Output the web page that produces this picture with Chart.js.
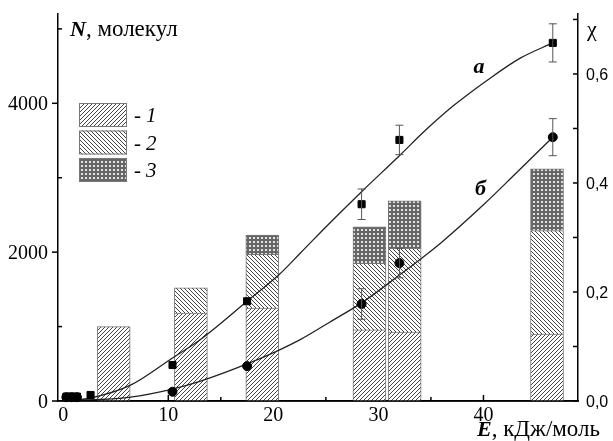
<!DOCTYPE html>
<html>
<head>
<meta charset="utf-8">
<script src="https://cdn.jsdelivr.net/npm/chart.js@4.4.0/dist/chart.umd.min.js"></script>
<style>
  html, body { margin: 0; padding: 0; background: #fff; }
  #wrap { width: 613px; height: 441px; }
</style>
</head>
<body>
<div id="wrap"><canvas id="c" width="613" height="441"></canvas></div>
<script>
// --- data ---
// bars: energy positions and stacked segments (N, molecules)
const barE = [4.8, 12.15, 18.95, 29.15, 32.5, 46.05];
const part1 = [1000, 1180, 1250, 955, 925, 900];
const part2 = [null, 340, 720, 895, 1125, 1390];
const part3 = [null, null, 260, 490, 640, 830];
const legendLabels = ['1', '2', '3'];

// measured points (chi, right axis)
const aE   = [0.3, 0.8, 1.3, 2.6, 10.4, 17.5, 28.4, 32.0, 46.6];
const aChi = [0.008, 0.008, 0.008, 0.011, 0.066, 0.183, 0.361, 0.479, 0.657];
const aErr = [0, 0, 0, 0, 0, 0, 0.028, 0.027, 0.035];
const bE   = [0.3, 0.8, 1.3, 10.4, 17.5, 28.4, 32.0, 46.6];
const bChi = [0.007, 0.007, 0.007, 0.017, 0.064, 0.178, 0.253, 0.484];
const bErr = [0, 0, 0, 0, 0, 0.028, 0.027, 0.034];

// fitted curves
const curveAE   = [0, 2.6, 6.4, 10.4, 13, 17.5, 20.5, 22.6, 25.4, 28.4, 32, 34.5, 37.1, 40.4, 43.5, 46.6];
const curveAChi = [0, 0.0055, 0.029, 0.079, 0.112, 0.183, 0.231, 0.272, 0.327, 0.384, 0.450, 0.497, 0.541, 0.589, 0.629, 0.657];
const curveBE   = [0, 6.4, 10.4, 13, 17.5, 20.5, 22.6, 25.4, 28.4, 32, 36, 40, 43, 46.6];
const curveBChi = [0, 0.0073, 0.022, 0.036, 0.068, 0.093, 0.113, 0.145, 0.180, 0.231, 0.291, 0.360, 0.416, 0.484];
const curveLabels = [['а', 39.05, 0.602], ['б', 39.2, 0.378]];

// tick values
const xMajor = [0, 10, 20, 30, 40];
const xMinor = [5, 15, 25, 35, 45];
const yMajor = [0, 2000, 4000];
const yMinor = [1000, 3000, 5000];
const y2Major = [0, 0.2, 0.4, 0.6];
const y2Minor = [0.1, 0.3, 0.5, 0.7];

const SERIF = '"Liberation Serif", "Times New Roman", serif';
const SANS = '"Liberation Sans", Arial, sans-serif';

// hatch patterns
function hatch(dir) {
  const s = 4, c = document.createElement('canvas');
  c.width = c.height = s;
  const g = c.getContext('2d');
  g.fillStyle = '#fff'; g.fillRect(0, 0, s, s);
  g.strokeStyle = '#444'; g.lineWidth = 1;
  g.beginPath();
  if (dir > 0) {
    g.moveTo(-1, s + 1); g.lineTo(s + 1, -1);
    g.moveTo(-1, 1); g.lineTo(1, -1);
    g.moveTo(s - 1, s + 1); g.lineTo(s + 1, s - 1);
  } else {
    g.moveTo(-1, -1); g.lineTo(s + 1, s + 1);
    g.moveTo(s - 1, -1); g.lineTo(s + 1, 1);
    g.moveTo(-1, s - 1); g.lineTo(1, s + 1);
  }
  g.stroke();
  return g.createPattern(c, 'repeat');
}
function cross() {
  const s = 4, c = document.createElement('canvas');
  c.width = c.height = s;
  const g = c.getContext('2d');
  g.fillStyle = '#666'; g.fillRect(0, 0, s, s);
  g.fillStyle = '#fff';
  g.beginPath(); g.arc(2, 2, 1.1, 0, Math.PI * 2); g.fill();
  return g.createPattern(c, 'repeat');
}
const fills = [hatch(1), hatch(-1), cross()];

const pts = (xs, ys) => xs.map((x, i) => ({x, y: ys[i]}));
const barSet = (vals, i) => ({
  type: 'bar', label: legendLabels[i], stack: 's', order: 3,
  data: barE.map((e, k) => ({x: e, y: vals[k]})),
  backgroundColor: fills[i], borderColor: '#777', borderWidth: 1,
  barThickness: 33, yAxisID: 'y'
});

// ticks drawn inward / outward like the original
const ticksPlugin = {
  id: 'ticks',
  beforeDatasetsDraw(chart) {
    const {ctx, chartArea: a, scales: {x, y, y2}} = chart;
    ctx.save();
    ctx.strokeStyle = '#000'; ctx.lineWidth = 1.5;
    const seg = (x1, y1, x2, y2_) => { ctx.beginPath(); ctx.moveTo(x1, y1); ctx.lineTo(x2, y2_); ctx.stroke(); };
    xMajor.forEach(v => { const p = x.getPixelForValue(v); seg(p, a.bottom, p, a.bottom - 6); });
    xMinor.forEach(v => { const p = x.getPixelForValue(v); seg(p, a.bottom, p, a.bottom - 4); });
    yMajor.forEach(v => { const p = y.getPixelForValue(v); seg(a.left - 6, p, a.left, p); });
    yMinor.forEach(v => { const p = y.getPixelForValue(v); seg(a.left, p, a.left + 4, p); });
    y2Major.concat(y2Minor).forEach(v => { const p = y2.getPixelForValue(v); seg(a.right - 5, p, a.right, p); });
    ctx.restore();
  },
  afterDatasetsDraw(chart) {
    const {ctx, chartArea: a, scales: {y2}} = chart;
    ctx.save();
    ctx.strokeStyle = '#000'; ctx.lineWidth = 1.5;
    ctx.beginPath(); ctx.moveTo(a.left, a.bottom); ctx.lineTo(a.right, a.bottom); ctx.stroke();
    // error bars
    ctx.strokeStyle = '#555'; ctx.lineWidth = 1;
    const err = (xs, ys, es) => xs.forEach((e, i) => {
      if (!es[i]) return;
      const px = chart.scales.x.getPixelForValue(e);
      const t = y2.getPixelForValue(ys[i] + es[i]), b = y2.getPixelForValue(ys[i] - es[i]);
      ctx.beginPath();
      ctx.moveTo(px, t); ctx.lineTo(px, b);
      ctx.moveTo(px - 4, t); ctx.lineTo(px + 4, t);
      ctx.moveTo(px - 4, b); ctx.lineTo(px + 4, b);
      ctx.stroke();
    });
    err(aE, aChi, aErr);
    err(bE, bChi, bErr);
    ctx.restore();
  }
};

// tick labels, titles, curve labels and legend
const textPlugin = {
  id: 'texts',
  afterDraw(chart) {
    const {ctx, chartArea: a, scales: {x, y, y2}} = chart;
    ctx.save();
    ctx.fillStyle = '#000';
    ctx.textBaseline = 'alphabetic';
    // tick labels
    ctx.font = '20px ' + SERIF;
    ctx.textAlign = 'center';
    xMajor.forEach(v => ctx.fillText(String(v), x.getPixelForValue(v), a.bottom + 20));
    ctx.textAlign = 'right';
    yMajor.forEach(v => ctx.fillText(String(v), a.left - 10, y.getPixelForValue(v) + 7));
    ctx.font = '16px ' + SANS;
    ctx.textAlign = 'left';
    y2Major.forEach(v => ctx.fillText(v.toFixed(1).replace('.', ','), a.right + 8, y2.getPixelForValue(v) + 6));
    // N, молекул
    ctx.font = 'italic bold 22px ' + SERIF;
    ctx.fillText('N', a.left + 12, 36);
    let w = ctx.measureText('N').width;
    ctx.font = '23px ' + SERIF;
    ctx.fillText(', молекул', a.left + 12 + w, 36);
    // chi
    ctx.font = '22px ' + SERIF;
    ctx.fillText('χ', a.right + 9, 36);
    // E, кДж/моль
    ctx.font = 'italic bold 22px ' + SERIF;
    ctx.fillText('E', 477, 436);
    w = ctx.measureText('E').width;
    ctx.font = '23px ' + SERIF;
    ctx.fillText(', кДж/моль', 477 + w, 436);
    // curve labels
    ctx.font = 'italic bold 22px ' + SERIF;
    curveLabels.forEach(([t, ex, ey]) => ctx.fillText(t, x.getPixelForValue(ex), y2.getPixelForValue(ey)));
    // legend
    legendLabels.forEach((lab, i) => {
      const bx = 79, by = 103 + i * 27.5;
      ctx.fillStyle = fills[i];
      ctx.fillRect(bx, by, 48, 24);
      ctx.strokeStyle = '#777'; ctx.lineWidth = 1;
      ctx.strokeRect(bx + 0.5, by + 0.5, 47, 23);
      ctx.fillStyle = '#000';
      ctx.font = '21px ' + SERIF;
      ctx.fillText('-', 134, by + 19);
      ctx.font = 'italic 21px ' + SERIF;
      ctx.fillText(lab, 146, by + 19);
    });
    ctx.restore();
  }
};

const axisBase = {
  grid: {display: false, drawTicks: false},
  border: {color: '#000', width: 1.5},
  ticks: {display: false}
};

new Chart(document.getElementById('c'), {
  type: 'bar',
  data: {
    datasets: [
      {type: 'line', data: pts(aE, aChi), yAxisID: 'y2', showLine: false, pointStyle: 'rect',
       pointRadius: 5, backgroundColor: '#000', borderColor: '#000', order: 1, clip: false},
      {type: 'line', data: pts(bE, bChi), yAxisID: 'y2', showLine: false, pointStyle: 'circle',
       pointRadius: 4.5, backgroundColor: '#000', borderColor: '#000', order: 1, clip: false},
      {type: 'line', data: pts(curveAE, curveAChi), yAxisID: 'y2', pointRadius: 0,
       borderColor: '#222', borderWidth: 1.3, cubicInterpolationMode: 'monotone', order: 2},
      {type: 'line', data: pts(curveBE, curveBChi), yAxisID: 'y2', pointRadius: 0,
       borderColor: '#222', borderWidth: 1.3, cubicInterpolationMode: 'monotone', order: 2},
      barSet(part1, 0), barSet(part2, 1), barSet(part3, 2)
    ]
  },
  options: {
    responsive: false,
    animation: false,
    layout: {padding: {top: 14, left: 0, right: 0, bottom: 0}},
    plugins: {legend: {display: false}, tooltip: {enabled: false}},
    scales: {
      x: Object.assign({}, axisBase, {
        type: 'linear', min: -0.5, max: 49, offset: false, stacked: true,
        afterFit: s => { s.height = 40; }
      }),
      y: Object.assign({}, axisBase, {
        position: 'left', min: 0, max: 5200, stacked: true,
        afterFit: s => { s.width = 58; }
      }),
      y2: Object.assign({}, axisBase, {
        position: 'right', min: 0, max: 0.71,
        afterFit: s => { s.width = 35; }
      })
    }
  },
  plugins: [ticksPlugin, textPlugin]
});
</script>
</body>
</html>
